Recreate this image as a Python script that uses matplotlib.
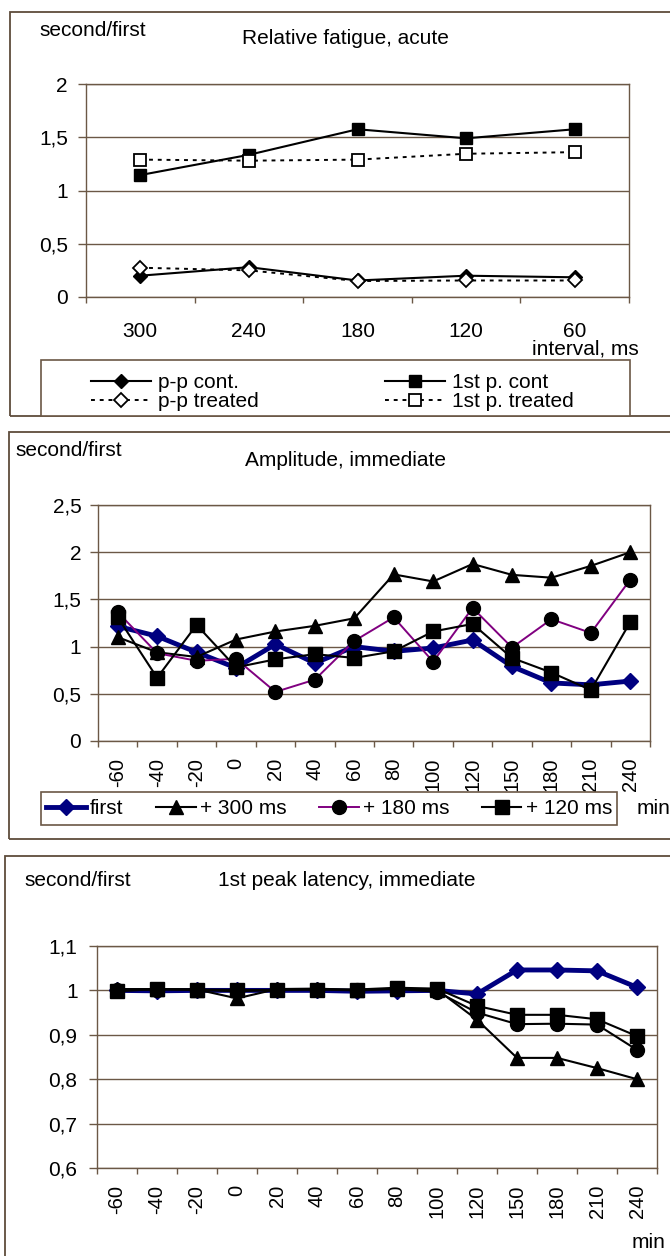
import matplotlib
matplotlib.use("Agg")
import matplotlib.pyplot as plt
from matplotlib.patches import Rectangle
from matplotlib.ticker import FuncFormatter

plt.rcParams['font.family'] = ['Liberation Sans', 'DejaVu Sans']

W, H = 670, 1256

# panel 1 - relative fatigue, acute
intervals = ["300", "240", "180", "120", "60"]
pp_cont = [0.20, 0.28, 0.155, 0.20, 0.185]
pp_treated = [0.275, 0.25, 0.15, 0.155, 0.155]
first_cont = [1.145, 1.335, 1.575, 1.49, 1.575]
first_treated = [1.29, 1.28, 1.29, 1.345, 1.36]

# panels 2 and 3 - time course, min
minutes = ["-60", "-40", "-20", "0", "20", "40", "60", "80", "100", "120", "150", "180", "210", "240"]

amp_first = [1.215, 1.11, 0.94, 0.775, 1.025, 0.825, 1.0, 0.95, 0.985, 1.07, 0.79, 0.615, 0.595, 0.635]
amp_300 = [1.10, 0.94, 0.89, 1.075, 1.16, 1.22, 1.30, 1.765, 1.69, 1.875, 1.76, 1.73, 1.855, 2.0]
amp_180 = [1.365, 0.93, 0.85, 0.87, 0.52, 0.65, 1.06, 1.31, 0.84, 1.41, 0.99, 1.29, 1.145, 1.71]
amp_120 = [1.31, 0.67, 1.23, 0.78, 0.865, 0.92, 0.88, 0.95, 1.16, 1.24, 0.88, 0.725, 0.54, 1.26]

lat_first = [1.0, 0.999, 1.0, 1.0, 1.0, 1.0, 0.998, 0.999, 1.0, 0.992, 1.046, 1.046, 1.044, 1.007]
lat_300 = [1.003, 1.003, 1.002, 0.982, 1.003, 1.004, 1.001, 1.004, 1.002, 0.934, 0.848, 0.848, 0.825, 0.80]
lat_180 = [1.0, 1.002, 1.001, 0.998, 1.001, 1.002, 1.0, 1.003, 0.997, 0.95, 0.924, 0.925, 0.923, 0.866]
lat_120 = [0.998, 1.003, 1.002, 1.001, 1.001, 1.002, 1.002, 1.006, 1.004, 0.965, 0.945, 0.945, 0.935, 0.897]

FRAME = "#6b5846"
BORDER = "#5e4c3c"
NAVY = "#000080"
PURPLE = "#800080"
FS = 15
FS_ROT = 14.5


def px_rect(left, top, right, bottom):
    return [left / W, 1 - bottom / H, (right - left) / W, (bottom - top) / H]


def fig_xy(x, y):
    return x / W, 1 - y / H


def comma(v, _pos):
    return f"{v:.1f}".rstrip("0").rstrip(".").replace(".", ",")


def setup(ax, labels, yticks, ypad, xpad, rot):
    n = len(labels)
    ax.set_xlim(-0.5, n - 0.5)
    ax.set_ylim(yticks[0], yticks[-1])
    ax.set_yticks(yticks)
    ax.yaxis.set_major_formatter(FuncFormatter(comma))
    ax.yaxis.grid(True, color=FRAME, lw=1)
    ax.set_axisbelow(True)
    for s in ax.spines.values():
        s.set_color(FRAME)
        s.set_linewidth(1)
    ax.set_xticks(range(n))
    ax.set_xticklabels(labels, rotation=rot)
    ax.set_xticks([i - 0.5 for i in range(n + 1)], minor=True)
    ax.tick_params(axis='x', which='major', length=0, pad=xpad,
                   labelsize=FS_ROT if rot else FS)
    ax.tick_params(axis='x', which='minor', length=4.5, width=1, color=FRAME)
    ax.tick_params(axis='y', length=6, width=1, color=FRAME, pad=ypad, labelsize=FS)


fig = plt.figure(figsize=(W / 100, H / 100), dpi=100)

# outer panel frames
for left, top, bottom in [(10, 12, 416), (9, 432, 839), (5, 856, 1264)]:
    x0, y0 = fig_xy(left, bottom)
    fig.add_artist(Rectangle((x0, y0), (W + 6 - left) / W, (bottom - top) / H,
                             transform=fig.transFigure, fill=False,
                             edgecolor=BORDER, lw=1.3))

# ---- panel 1
ax1 = fig.add_axes(px_rect(86, 84, 629, 297))
x1 = range(len(intervals))
l_ppc, = ax1.plot(x1, pp_cont, color="black", lw=1.5, marker="D", ms=7, mfc="black", mec="black")
l_fc, = ax1.plot(x1, first_cont, color="black", lw=1.5, marker="s", ms=9, mfc="black", mec="black")
l_ppt, = ax1.plot(x1, pp_treated, color="black", lw=1.4, ls=(0, (2, 2.5)), marker="D", ms=7,
                  mfc="white", mec="black", mew=1.3)
l_ft, = ax1.plot(x1, first_treated, color="black", lw=1.4, ls=(0, (2, 2.5)), marker="s", ms=9,
                 mfc="white", mec="black", mew=1.3)
setup(ax1, intervals, [0, 0.5, 1, 1.5, 2], 7, 18, 0)

fig.text(*fig_xy(39, 31), "second/first", fontsize=FS, ha="left", va="center")
fig.text(*fig_xy(345, 39), "Relative fatigue, acute", fontsize=FS, ha="center", va="center")
fig.text(*fig_xy(639, 349), "interval, ms", fontsize=FS, ha="right", va="center")

x0, y0 = fig_xy(41, 416)
fig.add_artist(Rectangle((x0, y0), (630 - 41) / W, (416 - 360) / H, transform=fig.transFigure,
                         facecolor="white", edgecolor=FRAME, lw=1.2))
leg_kw = dict(frameon=False, fontsize=FS, handlelength=2.9, handletextpad=0.3,
              labelspacing=0.0, borderpad=0, borderaxespad=0, loc="center left")
fig.legend([l_ppc, l_ppt], ["p-p cont.", "p-p treated"], bbox_to_anchor=fig_xy(91, 392), **leg_kw)
fig.legend([l_fc, l_ft], ["1st p. cont", "1st p. treated"], bbox_to_anchor=fig_xy(385, 392), **leg_kw)

# ---- panel 2
ax2 = fig.add_axes(px_rect(98, 505, 650, 741))
x2 = range(len(minutes))
a_f, = ax2.plot(x2, amp_first, color=NAVY, lw=3.5, marker="D", ms=8.5, mfc=NAVY, mec=NAVY)
a_3, = ax2.plot(x2, amp_300, color="black", lw=1.5, marker="^", ms=10, mfc="black", mec="black")
a_18, = ax2.plot(x2, amp_180, color=PURPLE, lw=1.4, marker="o", ms=10, mfc="black", mec="black")
a_12, = ax2.plot(x2, amp_120, color="black", lw=1.5, marker="s", ms=9.5, mfc="black", mec="black")
setup(ax2, minutes, [0, 0.5, 1, 1.5, 2, 2.5], 6, 12, 90)

fig.text(*fig_xy(15, 451), "second/first", fontsize=FS, ha="left", va="center")
fig.text(*fig_xy(345, 460), "Amplitude, immediate", fontsize=FS, ha="center", va="center")
fig.text(*fig_xy(637, 808), "min", fontsize=FS, ha="left", va="center")

x0, y0 = fig_xy(41, 825)
fig.add_artist(Rectangle((x0, y0), (617 - 41) / W, (825 - 792) / H, transform=fig.transFigure,
                         facecolor="white", edgecolor=FRAME, lw=1.2))
fig.legend([a_f, a_3, a_18, a_12], ["first", "+ 300 ms", "+ 180 ms", "+ 120 ms"],
           bbox_to_anchor=(46 / W, 1 - 825 / H, (612 - 46) / W, 33 / H), loc="center",
           mode="expand", ncol=4, frameon=False, fontsize=FS, handlelength=1.9,
           handletextpad=0.2, columnspacing=0.4, borderpad=0, borderaxespad=0)

# ---- panel 3
ax3 = fig.add_axes(px_rect(97, 946, 657, 1168))
ax3.plot(x2, lat_first, color=NAVY, lw=3.5, marker="D", ms=8.5, mfc=NAVY, mec=NAVY)
ax3.plot(x2, lat_300, color="black", lw=1.5, marker="^", ms=10, mfc="black", mec="black")
ax3.plot(x2, lat_180, color="black", lw=1.5, marker="o", ms=10, mfc="black", mec="black")
ax3.plot(x2, lat_120, color="black", lw=1.5, marker="s", ms=9.5, mfc="black", mec="black")
setup(ax3, minutes, [0.6, 0.7, 0.8, 0.9, 1.0, 1.1], 8, 12, 90)

fig.text(*fig_xy(24, 880), "second/first", fontsize=FS, ha="left", va="center")
fig.text(*fig_xy(347, 880), "1st peak latency, immediate", fontsize=FS, ha="center", va="center")
fig.text(*fig_xy(632, 1243), "min", fontsize=FS, ha="left", va="center")

fig.savefig("out.png", dpi=100, facecolor="white")
